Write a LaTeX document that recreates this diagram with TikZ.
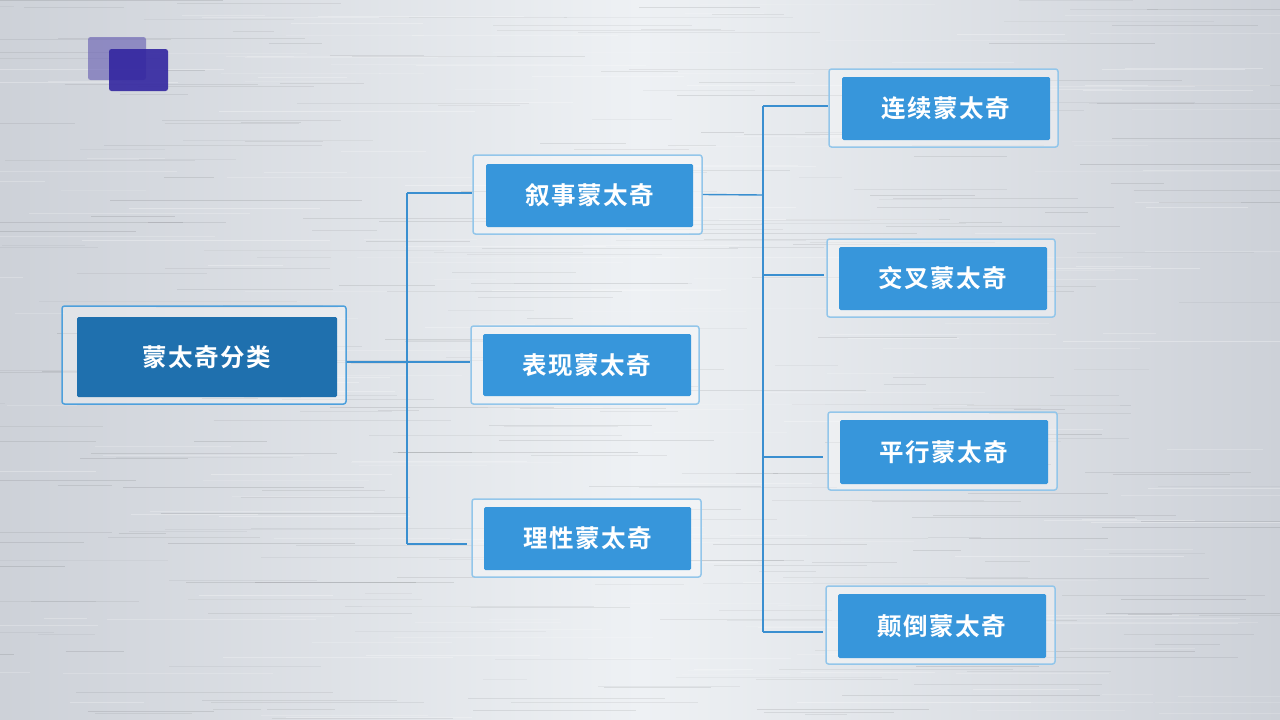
\documentclass[tikz,border=0pt]{standalone}
\usepackage{fontspec}
\newfontfamily\cjk{Noto Sans CJK SC}[BoldFont={Noto Sans CJK SC Bold}, LetterSpace=6]
\usetikzlibrary{calc}
\definecolor{linec}{HTML}{3A8FD0}
\definecolor{innerc}{HTML}{3796DB}
\definecolor{rootc}{HTML}{1F70AE}
\definecolor{framec}{HTML}{93C6EA}
\definecolor{rootframe}{HTML}{4EA0DC}
\definecolor{bgedge}{HTML}{ADB2BB}
\definecolor{bgq}{HTML}{CDD1D8}
\definecolor{bgmid}{HTML}{EEF1F4}
\definecolor{sqback}{HTML}{6A62B4}
\definecolor{sqfront}{HTML}{3326A0}
\pgfdeclarehorizontalshading{metal}{100bp}{color(0bp)=(bgedge); color(25bp)=(bgq); color(50bp)=(bgmid); color(75bp)=(bgq); color(100bp)=(bgedge)}
\tikzset{
  outerbox/.style={draw=framec, line width=1.5pt, fill=white, fill opacity=0.35, rounded corners=2.5pt, inner sep=0pt},
  rootouter/.style={outerbox, draw=rootframe},
  innerbox/.style={fill=innerc, rounded corners=1.5pt, inner sep=0pt, text=white, font=\cjk\bfseries\fontsize{24.5}{27}\selectfont},
  rootinner/.style={innerbox, fill=rootc},
  conn/.style={draw=linec, line width=1.4pt},
}
\begin{document}
\begin{tikzpicture}[x=1pt,y=-1pt]
\useasboundingbox (0,0) rectangle (1280,720);
% background
\shade[shading=metal] (0,0) rectangle (1280,720);
\pgfmathsetseed{11}
\foreach \i in {1,...,320}{
  \pgfmathsetmacro{\yy}{rnd*720}
  \pgfmathsetmacro{\xa}{rnd*1280-100}
  \pgfmathsetmacro{\ll}{40+rnd*220}
  \pgfmathsetmacro{\op}{0.03+rnd*0.07}
  \draw[black, opacity=\op, line width=0.7pt] (\xa,\yy) -- ++(\ll,0);
}
\foreach \i in {1,...,200}{
  \pgfmathsetmacro{\yy}{rnd*720}
  \pgfmathsetmacro{\xa}{rnd*1280-100}
  \pgfmathsetmacro{\ll}{40+rnd*220}
  \pgfmathsetmacro{\op}{0.1+rnd*0.2}
  \draw[white, opacity=\op, line width=0.7pt] (\xa,\yy) -- ++(\ll,0);
}
% decorative squares
\fill[sqback, opacity=0.65, rounded corners=2.5pt] (88,37) rectangle (146,80);
\fill[sqfront, opacity=0.9, rounded corners=2.5pt] (109,49) rectangle (168,91);
% root
\node[rootouter, minimum width=284, minimum height=98] (ro) at (204,355) {};
\node[rootinner, minimum width=260, minimum height=80] (r) at (207,357) {蒙太奇分类};
% level 2
\node[outerbox, minimum width=229, minimum height=79] (ao) at (587.5,194.5) {};
\node[innerbox, minimum width=207, minimum height=63] (a) at (589.5,195.5) {叙事蒙太奇};
\node[outerbox, minimum width=228, minimum height=78] (bo) at (585,365) {};
\node[innerbox, minimum width=208, minimum height=62] (b) at (587,365) {表现蒙太奇};
\node[outerbox, minimum width=229, minimum height=78] (co) at (586.5,538) {};
\node[innerbox, minimum width=207, minimum height=63] (c) at (587.5,538.5) {理性蒙太奇};
% level 3
\node[outerbox, minimum width=229, minimum height=78] (do) at (943.5,108) {};
\node[innerbox, minimum width=208, minimum height=63] (d) at (946,108.5) {连续蒙太奇};
\node[outerbox, minimum width=228, minimum height=78] (eo) at (941,278) {};
\node[innerbox, minimum width=208, minimum height=63] (e) at (943,278.5) {交叉蒙太奇};
\node[outerbox, minimum width=229, minimum height=78] (fo) at (942.5,451) {};
\node[innerbox, minimum width=208, minimum height=64] (f) at (944,452) {平行蒙太奇};
\node[outerbox, minimum width=229, minimum height=78] (go) at (940.5,625) {};
\node[innerbox, minimum width=208, minimum height=64] (g) at (942,626) {颠倒蒙太奇};
% connectors level 1 -> 2
\coordinate (j1) at (407,362);
\coordinate (j1t) at (407,193);
\coordinate (j1b) at (407,544);
\draw[conn] ([yshift=-7pt]ro.east) -- (j1);
\draw[conn] (j1t) -- (j1b);
\draw[conn] (j1t) -- (j1t -| ao.west);
\draw[conn] (j1) -- (j1 -| bo.west);
\draw[conn] (j1b) -- ([xshift=-4pt]j1b -| co.west);
% connectors level 2 -> 3
\coordinate (j2) at (763,195);
\coordinate (j2t) at (763,106);
\coordinate (j2b) at (763,632);
\draw[conn] (ao.east) -- (j2);
\draw[conn] (j2t) -- (j2b);
\draw[conn] (j2t) -- (j2t -| do.west);
\coordinate (j2e) at (763,275);
\coordinate (j2f) at (763,457);
\draw[conn] (j2e) -- ([xshift=-2pt]j2e -| eo.west);
\draw[conn] (j2f) -- ([xshift=-4pt]j2f -| fo.west);
\draw[conn] (j2b) -- ([xshift=-2pt]j2b -| go.west);
\end{tikzpicture}
\end{document}
